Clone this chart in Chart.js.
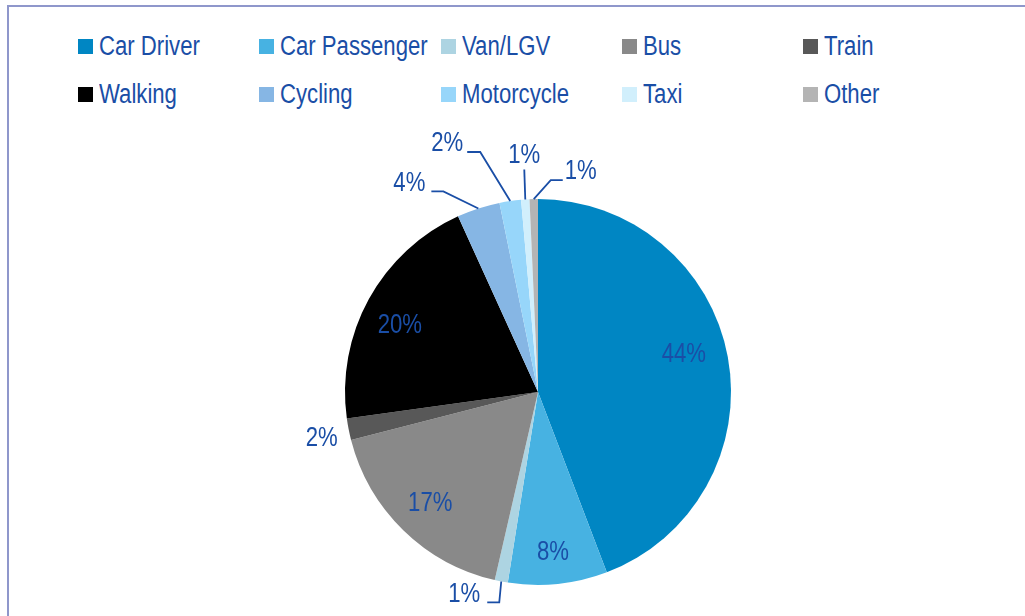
<!DOCTYPE html>
<html>
<head>
<meta charset="utf-8">
<script src="https://cdn.jsdelivr.net/npm/chart.js@4.4.1/dist/chart.umd.min.js"></script>
<style>
    body { margin: 0; background: #fff; overflow: hidden; width: 1025px; height: 616px; position: relative; }
    .frame { position: absolute; left: 7px; top: 5px; width: 1100px; height: 700px; border: 2px solid #8f97cb; }
    #chartBox { position: absolute; left: 0; top: 0; width: 1025px; height: 616px; }
    .legend-item { position: absolute; display: flex; align-items: center; height: 30px;
        font-family: "Liberation Sans", Arial, sans-serif; font-size: 27px; color: #1a4ea6; white-space: nowrap; }
    .legend-item .box { width: 15px; height: 15px; margin-right: 6px; flex: none; }
    /* narrow the face, like Arial Narrow */
    .legend-item .txt { display: inline-block; transform: scaleX(0.82); transform-origin: left center; }
</style>
</head>
<body>
<div class="frame"></div>
<div id="legend"></div>
<div id="chartBox"><canvas id="modeChart" width="1025" height="616"></canvas></div>
<script>
// travel mode share (%)
const modes = ['Car Driver', 'Car Passenger', 'Van/LGV', 'Bus', 'Train',
    'Walking', 'Cycling', 'Motorcycle', 'Taxi', 'Other'];
const shares = [44.2, 8.3, 1.1, 17.4, 1.8, 20.4, 3.6, 1.8, 0.7, 0.7];
const modeColors = ['#0086c3', '#47b2e2', '#add4e2', '#898989', '#585858',
    '#000000', '#86b6e4', '#97d6fa', '#d1effc', '#b4b4b4'];

const labelColor = '#1a4ea6';
const labelFont = '27px "Liberation Sans", Arial, sans-serif';
const narrow = 0.82;

// label offsets from the slice's outer edge point; leader = elbow / stub end
const labelPlacement = {
    'Car Driver':    { dx: -44, dy: -2 },
    'Car Passenger': { dx: -5, dy: -31 },
    'Van/LGV':       { dx: -37, dy: 13, leader: [[-2, 21], [-14, 21]] },
    'Bus':           { dx: 27, dy: -27 },
    'Train':         { dx: -27, dy: 9 },
    'Walking':       { dx: 31, dy: 27 },
    'Cycling':       { dx: -69, dy: -25, leader: [[-35, -17], [-47, -17]] },
    'Motorcycle':    { dx: -63, dy: -57, leader: [[-30, -49], [-43, -49]] },
    'Taxi':          { dx: -1, dy: -44, leader: [[-1, -30]] },
    'Other':         { dx: 47, dy: -27, leader: [[17, -19], [29, -19]] }
};

// legend, 5 columns x 2 rows
const legendEl = document.getElementById('legend');
modes.forEach(function (name, i) {
    const item = document.createElement('div');
    item.className = 'legend-item';
    item.style.left = (78 + (i % 5) * 181.3) + 'px';
    item.style.top = (31 + Math.floor(i / 5) * 48) + 'px';
    item.innerHTML = '<span class="box" style="background:' + modeColors[i] + '"></span>' +
        '<span class="txt">' + name + '</span>';
    legendEl.appendChild(item);
});

const pieLabels = {
    id: 'pieLabels',
    afterDatasetsDraw(chart) {
        const ctx = chart.ctx;
        const meta = chart.getDatasetMeta(0);
        ctx.save();
        ctx.font = labelFont;
        ctx.fillStyle = labelColor;
        ctx.strokeStyle = labelColor;
        ctx.lineWidth = 1.8;
        ctx.textAlign = 'center';
        ctx.textBaseline = 'middle';
        meta.data.forEach(function (arc, i) {
            const p = arc.getProps(['x', 'y', 'startAngle', 'endAngle', 'outerRadius'], true);
            const mid = (p.startAngle + p.endAngle) / 2;
            const ex = p.x + Math.cos(mid) * p.outerRadius;
            const ey = p.y + Math.sin(mid) * p.outerRadius;
            const place = labelPlacement[modes[i]];
            if (place.leader) {
                ctx.beginPath();
                ctx.moveTo(ex, ey);
                place.leader.forEach(function (pt) {
                    ctx.lineTo(ex + pt[0], ey + pt[1]);
                });
                ctx.stroke();
            }
            ctx.save();
            ctx.translate(ex + place.dx, ey + place.dy);
            ctx.scale(narrow, 1);
            ctx.fillText(Math.round(shares[i]) + '%', 0, 0);
            ctx.restore();
        });
        ctx.restore();
    }
};

const ctx = document.getElementById('modeChart').getContext('2d');
new Chart(ctx, {
    type: 'pie',
    data: {
        labels: modes,
        datasets: [{
            data: shares,
            backgroundColor: modeColors,
            borderWidth: 0
        }]
    },
    options: {
        responsive: false,
        animation: false,
        layout: { padding: { left: 345, right: 294, top: 199, bottom: 31 } },
        plugins: {
            legend: { display: false },
            tooltip: { enabled: false }
        }
    },
    plugins: [pieLabels]
});
</script>
</body>
</html>
